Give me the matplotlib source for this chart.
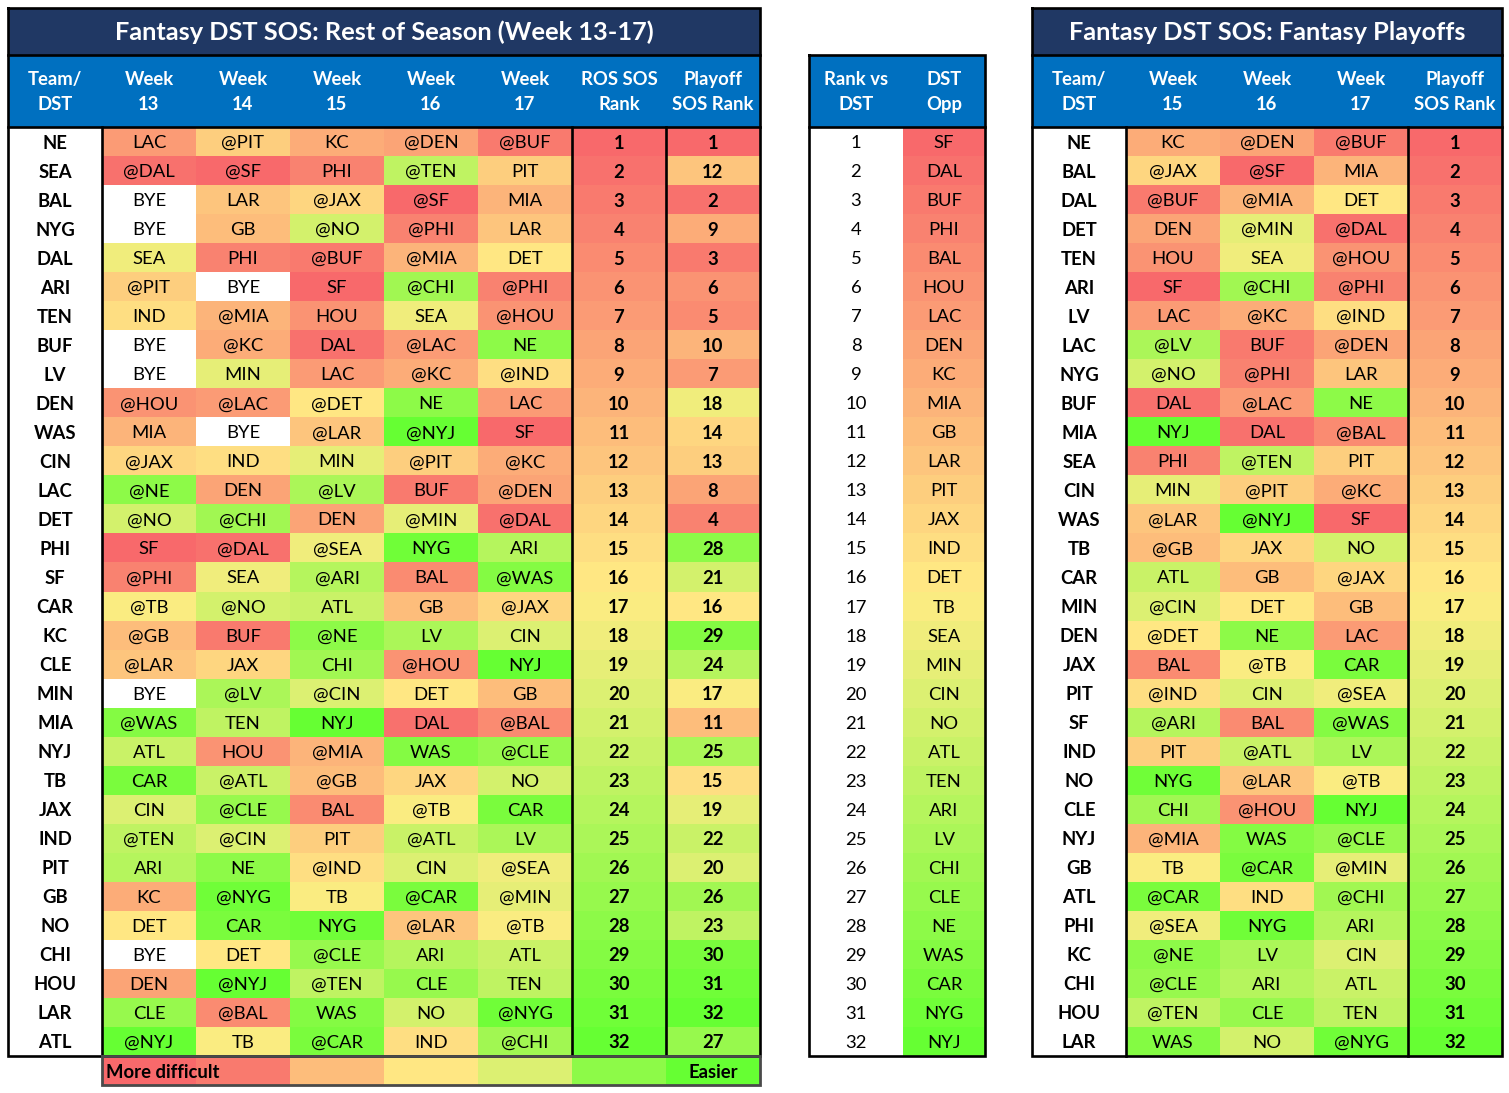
import numpy as np
import matplotlib
matplotlib.use("Agg")
import matplotlib.pyplot as plt
from matplotlib.patches import Rectangle

plt.rcParams['font.family'] = ['Lato', 'DejaVu Sans']

# ---- data -------------------------------------------------------------
ros_teams = ["NE", "SEA", "BAL", "NYG", "DAL", "ARI", "TEN", "BUF", "LV", "DEN", "WAS",
             "CIN", "LAC", "DET", "PHI", "SF", "CAR", "KC", "CLE", "MIN", "MIA", "NYJ",
             "TB", "JAX", "IND", "PIT", "GB", "NO", "CHI", "HOU", "LAR", "ATL"]
wk13 = ["LAC", "@DAL", "BYE", "BYE", "SEA", "@PIT", "IND", "BYE", "BYE", "@HOU", "MIA",
        "@JAX", "@NE", "@NO", "SF", "@PHI", "@TB", "@GB", "@LAR", "BYE", "@WAS", "ATL",
        "CAR", "CIN", "@TEN", "ARI", "KC", "DET", "BYE", "DEN", "CLE", "@NYJ"]
wk14 = ["@PIT", "@SF", "LAR", "GB", "PHI", "BYE", "@MIA", "@KC", "MIN", "@LAC", "BYE",
        "IND", "DEN", "@CHI", "@DAL", "SEA", "@NO", "BUF", "JAX", "@LV", "TEN", "HOU",
        "@ATL", "@CLE", "@CIN", "NE", "@NYG", "CAR", "DET", "@NYJ", "@BAL", "TB"]
wk15 = ["KC", "PHI", "@JAX", "@NO", "@BUF", "SF", "HOU", "DAL", "LAC", "@DET", "@LAR",
        "MIN", "@LV", "DEN", "@SEA", "@ARI", "ATL", "@NE", "CHI", "@CIN", "NYJ", "@MIA",
        "@GB", "BAL", "PIT", "@IND", "TB", "NYG", "@CLE", "@TEN", "WAS", "@CAR"]
wk16 = ["@DEN", "@TEN", "@SF", "@PHI", "@MIA", "@CHI", "SEA", "@LAC", "@KC", "NE", "@NYJ",
        "@PIT", "BUF", "@MIN", "NYG", "BAL", "GB", "LV", "@HOU", "DET", "DAL", "WAS",
        "JAX", "@TB", "@ATL", "CIN", "@CAR", "@LAR", "ARI", "CLE", "NO", "IND"]
wk17 = ["@BUF", "PIT", "MIA", "LAR", "DET", "@PHI", "@HOU", "NE", "@IND", "LAC", "SF",
        "@KC", "@DEN", "@DAL", "ARI", "@WAS", "@JAX", "CIN", "NYJ", "GB", "@BAL", "@CLE",
        "NO", "CAR", "LV", "@SEA", "@MIN", "@TB", "ATL", "TEN", "@NYG", "@CHI"]
ros_rank = list(range(1, 33))
ros_playoff_rank = [1, 12, 2, 9, 3, 6, 5, 10, 7, 18, 14, 13, 8, 4, 28, 21, 16, 29, 24, 17,
                    11, 25, 15, 19, 22, 20, 26, 23, 30, 31, 32, 27]

rank_vs_dst = list(range(1, 33))
dst_opp = ["SF", "DAL", "BUF", "PHI", "BAL", "HOU", "LAC", "DEN", "KC", "MIA", "GB", "LAR",
           "PIT", "JAX", "IND", "DET", "TB", "SEA", "MIN", "CIN", "NO", "ATL", "TEN", "ARI",
           "LV", "CHI", "CLE", "NE", "WAS", "CAR", "NYG", "NYJ"]

po_teams = ["NE", "BAL", "DAL", "DET", "TEN", "ARI", "LV", "LAC", "NYG", "BUF", "MIA", "SEA",
            "CIN", "WAS", "TB", "CAR", "MIN", "DEN", "JAX", "PIT", "SF", "IND", "NO", "CLE",
            "NYJ", "GB", "ATL", "PHI", "KC", "CHI", "HOU", "LAR"]
po_wk15 = ["KC", "@JAX", "@BUF", "DEN", "HOU", "SF", "LAC", "@LV", "@NO", "DAL", "NYJ", "PHI",
           "MIN", "@LAR", "@GB", "ATL", "@CIN", "@DET", "BAL", "@IND", "@ARI", "PIT", "NYG",
           "CHI", "@MIA", "TB", "@CAR", "@SEA", "@NE", "@CLE", "@TEN", "WAS"]
po_wk16 = ["@DEN", "@SF", "@MIA", "@MIN", "SEA", "@CHI", "@KC", "BUF", "@PHI", "@LAC", "DAL",
           "@TEN", "@PIT", "@NYJ", "JAX", "GB", "DET", "NE", "@TB", "CIN", "BAL", "@ATL",
           "@LAR", "@HOU", "WAS", "@CAR", "IND", "NYG", "LV", "ARI", "CLE", "NO"]
po_wk17 = ["@BUF", "MIA", "DET", "@DAL", "@HOU", "@PHI", "@IND", "@DEN", "LAR", "NE", "@BAL",
           "PIT", "@KC", "SF", "NO", "@JAX", "GB", "LAC", "CAR", "@SEA", "@WAS", "LV", "@TB",
           "NYJ", "@CLE", "@MIN", "@CHI", "ARI", "CIN", "ATL", "TEN", "@NYG"]
po_rank = list(range(1, 33))

legend_vals = [1, 3, 11, 16, 20, 28, 32]

# ---- helpers ----------------------------------------------------------
RED = np.array([248, 105, 107]) / 255
YEL = np.array([255, 235, 132]) / 255
GRN = np.array([102, 255, 51]) / 255
NAVY = "#203864"
BLUE = "#0070C0"
opp_rank = dict(zip(dst_opp, rank_vs_dst))


def scale_color(v, lo=1, hi=32):
    mid = (lo + hi) / 2
    if v <= mid:
        t = (v - lo) / (mid - lo)
        return tuple(RED + (YEL - RED) * t)
    t = (v - mid) / (hi - mid)
    return tuple(YEL + (GRN - YEL) * t)


def opp_color(opp):
    if opp == "BYE":
        return "white"
    return scale_color(opp_rank[opp.lstrip("@")])


fig = plt.figure(figsize=(15.09, 10.93), dpi=100)
ax = fig.add_axes([0, 0, 1, 1])
ax.set_xlim(0, 1509)
ax.set_ylim(1093, 0)
ax.axis("off")

TOP, HEAD, BODY, BOT = 8, 55, 127, 1056
RH = (BOT - BODY) / 32
LW = 1.9
FS = 13.3


def cell(x, y, w, h, color):
    ax.add_patch(Rectangle((x, y), w, h, facecolor=color, edgecolor="none"))


def header(x0, widths, labels):
    x = x0
    for w, lab in zip(widths, labels):
        ax.text(x + w / 2, 92, lab, ha="center", va="center", color="white",
                fontsize=13.3, fontweight="bold", linespacing=1.6)
        x += w


def column(x, w, values, colors, bold=False):
    for i, (v, c) in enumerate(zip(values, colors)):
        y = BODY + i * RH
        cell(x, y, w + 0.5, RH + 0.5, c)
        ax.text(x + w / 2, y + RH / 2 + 1.5, str(v), ha="center", va="center",
                fontsize=FS, fontweight="bold" if bold else "normal", color="black")


def box(x0, x1, y0, y1, color="black", lw=LW):
    ax.plot([x0, x1, x1, x0, x0], [y0, y0, y1, y1, y0], color=color, lw=lw,
            solid_joinstyle="miter", zorder=5)


def vline(x, y0, y1):
    ax.plot([x, x], [y0, y1], color="black", lw=LW, zorder=5)


def hline(x0, x1, y):
    ax.plot([x0, x1], [y, y], color="black", lw=LW, zorder=5)


# ---- table 1: rest of season -----------------------------------------
W = 94
x0 = 8
cell(x0, TOP, 752, HEAD - TOP, NAVY)
cell(x0, HEAD, 752, BODY - HEAD, BLUE)
ax.text(x0 + 376, 32, "Fantasy DST SOS: Rest of Season (Week 13-17)", ha="center",
        va="center", color="white", fontsize=18.3, fontweight="bold")
header(x0, [W] * 8, ["Team/\nDST", "Week\n13", "Week\n14", "Week\n15", "Week\n16",
                     "Week\n17", "ROS SOS\nRank", "Playoff\nSOS Rank"])
column(x0, W, ros_teams, ["white"] * 32, bold=True)
for k, wk in enumerate([wk13, wk14, wk15, wk16, wk17]):
    column(x0 + W * (k + 1), W, wk, [opp_color(o) for o in wk])
column(x0 + W * 6, W, ros_rank, [scale_color(v) for v in ros_rank], bold=True)
column(x0 + W * 7, W, ros_playoff_rank, [scale_color(v) for v in ros_playoff_rank], bold=True)
box(x0, x0 + 752, TOP, BOT)
hline(x0, x0 + 752, HEAD)
hline(x0, x0 + 752, BODY)
for k in (1, 6, 7):
    vline(x0 + W * k, BODY, BOT)

# legend strip
for k, v in enumerate(legend_vals):
    cell(x0 + W * (k + 1), BOT, W + 0.5, 29, scale_color(v))
ax.text(x0 + W + 4, BOT + 16, "More difficult", ha="left", va="center", fontsize=FS,
        fontweight="bold")
ax.text(x0 + W * 7 + W / 2, BOT + 16, "Easier", ha="center", va="center", fontsize=FS,
        fontweight="bold")
box(x0 + W, x0 + 752, BOT, BOT + 29, color="#4a4a4a", lw=2.0)

# ---- table 2: rank vs DST --------------------------------------------
x2 = 809
cell(x2, HEAD, 176, BODY - HEAD, BLUE)
header(x2, [94, 82], ["Rank vs\nDST", "DST\nOpp"])
for i, (r, t) in enumerate(zip(rank_vs_dst, dst_opp)):
    y = BODY + i * RH
    cell(x2 + 94, y, 82, RH + 0.5, scale_color(r))
    ax.text(x2 + 47, y + RH / 2 + 1.5, str(r), ha="center", va="center", fontsize=FS)
    ax.text(x2 + 94 + 41, y + RH / 2 + 1.5, t, ha="center", va="center", fontsize=FS)
box(x2, x2 + 176, HEAD, BOT)
hline(x2, x2 + 176, BODY)

# ---- table 3: fantasy playoffs ---------------------------------------
x3 = 1032
cell(x3, TOP, 470, HEAD - TOP, NAVY)
cell(x3, HEAD, 470, BODY - HEAD, BLUE)
ax.text(x3 + 235, 32, "Fantasy DST SOS: Fantasy Playoffs", ha="center", va="center",
        color="white", fontsize=18.3, fontweight="bold")
header(x3, [W] * 5, ["Team/\nDST", "Week\n15", "Week\n16", "Week\n17", "Playoff\nSOS Rank"])
column(x3, W, po_teams, ["white"] * 32, bold=True)
for k, wk in enumerate([po_wk15, po_wk16, po_wk17]):
    column(x3 + W * (k + 1), W, wk, [opp_color(o) for o in wk])
column(x3 + W * 4, W, po_rank, [scale_color(v) for v in po_rank], bold=True)
box(x3, x3 + 470, TOP, BOT)
hline(x3, x3 + 470, HEAD)
hline(x3, x3 + 470, BODY)
for k in (1, 4):
    vline(x3 + W * k, BODY, BOT)

fig.savefig("out.png", dpi=100)
